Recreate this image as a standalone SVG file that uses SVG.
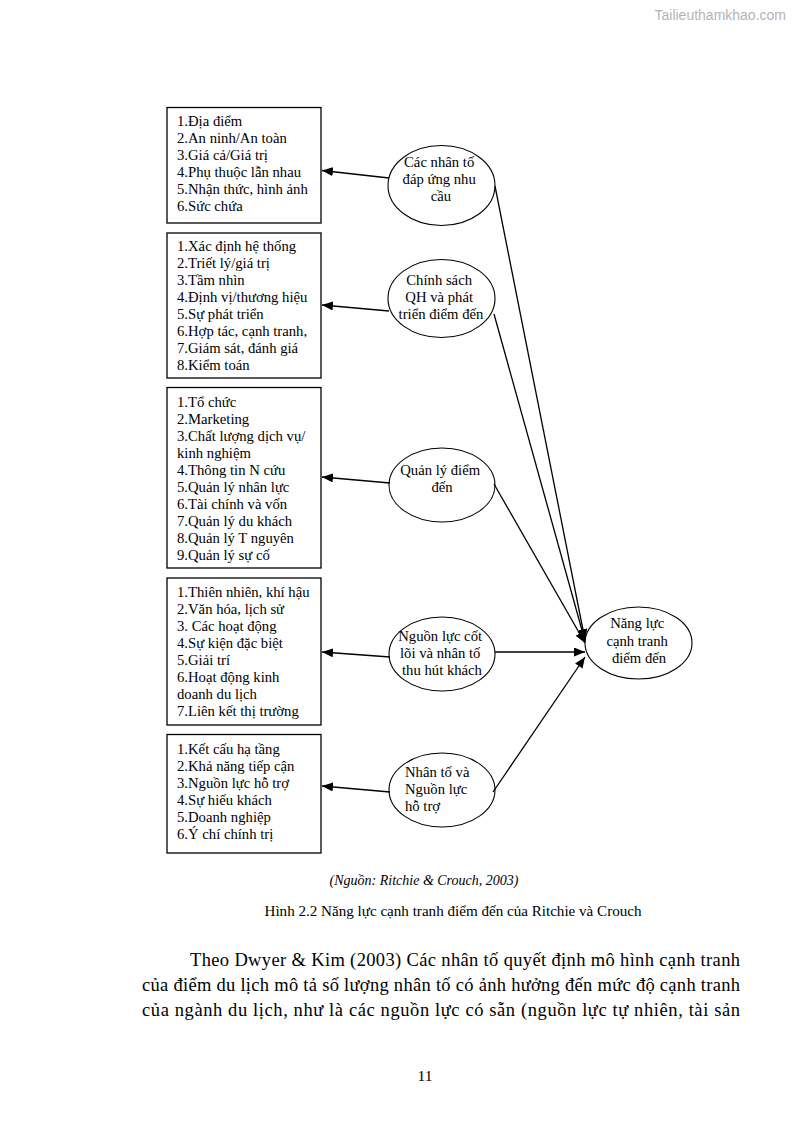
<svg xmlns="http://www.w3.org/2000/svg" width="794" height="1123" viewBox="0 0 794 1123">
<style>
  .box { fill: #fff; stroke: #000; stroke-width: 1.3; }
  .ell { fill: #fff; stroke: #000; stroke-width: 1.1; }
  .t { font-family: "Liberation Serif", "Times New Roman", serif; font-size: 14.7px; fill: #000; }
  .c { text-anchor: middle; }
  .conn { stroke: #000; stroke-width: 1.3; fill: none; marker-end: url(#arr); }
  .cap { font-family: "Liberation Serif", "Times New Roman", serif; fill: #000; }
</style>
<defs>
  <marker id="arr" markerUnits="userSpaceOnUse" markerWidth="11" markerHeight="9" refX="11" refY="4.5" orient="auto">
    <path d="M0,0 L11,4.5 L0,9 z" fill="#000"/>
  </marker>
</defs>
<rect width="794" height="1123" fill="#fff"/>

<text x="786" y="20" text-anchor="end" font-family="Liberation Sans, Arial, sans-serif" font-size="14" fill="#b4b4b4">Tailieuthamkhao.com</text>

<g id="box1">
  <rect class="box" x="167" y="107.5" width="154" height="115.5"/>
  <text class="t" x="177">
    <tspan x="177" y="126">1.Địa điểm</tspan>
    <tspan x="177" y="143">2.An ninh/An toàn</tspan>
    <tspan x="177" y="160">3.Giá cả/Giá trị</tspan>
    <tspan x="177" y="177">4.Phụ thuộc lẫn nhau</tspan>
    <tspan x="177" y="194">5.Nhận thức, hình ảnh</tspan>
    <tspan x="177" y="211">6.Sức chứa</tspan>
  </text>
</g>
<g id="box2">
  <rect class="box" x="167" y="233" width="154" height="145"/>
  <text class="t">
    <tspan x="177" y="251">1.Xác định hệ thống</tspan>
    <tspan x="177" y="268">2.Triết lý/giá trị</tspan>
    <tspan x="177" y="285">3.Tầm nhìn</tspan>
    <tspan x="177" y="302">4.Định vị/thương hiệu</tspan>
    <tspan x="177" y="319">5.Sự phát triển</tspan>
    <tspan x="177" y="336">6.Hợp tác, cạnh tranh,</tspan>
    <tspan x="177" y="353">7.Giám sát, đánh giá</tspan>
    <tspan x="177" y="370">8.Kiểm toán</tspan>
  </text>
</g>
<g id="box3">
  <rect class="box" x="167" y="387.5" width="154" height="180.5"/>
  <text class="t">
    <tspan x="177" y="407">1.Tổ chức</tspan>
    <tspan x="177" y="424">2.Marketing</tspan>
    <tspan x="177" y="441">3.Chất lượng dịch vụ/</tspan>
    <tspan x="177" y="458">kinh nghiệm</tspan>
    <tspan x="177" y="475">4.Thông tin N cứu</tspan>
    <tspan x="177" y="492">5.Quản lý nhân lực</tspan>
    <tspan x="177" y="509">6.Tài chính và vốn</tspan>
    <tspan x="177" y="526">7.Quản lý du khách</tspan>
    <tspan x="177" y="543">8.Quản lý T nguyên</tspan>
    <tspan x="177" y="560">9.Quản lý sự cố</tspan>
  </text>
</g>
<g id="box4">
  <rect class="box" x="167" y="578" width="154" height="147"/>
  <text class="t">
    <tspan x="177" y="597">1.Thiên nhiên, khí hậu</tspan>
    <tspan x="177" y="614">2.Văn hóa, lịch sử</tspan>
    <tspan x="177" y="631">3. Các hoạt động</tspan>
    <tspan x="177" y="648">4.Sự kiện đặc biệt</tspan>
    <tspan x="177" y="665">5.Giải trí</tspan>
    <tspan x="177" y="682">6.Hoạt động kinh</tspan>
    <tspan x="177" y="699">doanh du lịch</tspan>
    <tspan x="177" y="716">7.Liên kết thị trường</tspan>
  </text>
</g>
<g id="box5">
  <rect class="box" x="167" y="734.5" width="154" height="118.5"/>
  <text class="t">
    <tspan x="177" y="754">1.Kết cấu hạ tầng</tspan>
    <tspan x="177" y="771">2.Khả năng tiếp cận</tspan>
    <tspan x="177" y="788">3.Nguồn lực hỗ trợ</tspan>
    <tspan x="177" y="805">4.Sự hiếu khách</tspan>
    <tspan x="177" y="822">5.Doanh nghiệp</tspan>
    <tspan x="177" y="839">6.Ý chí chính trị</tspan>
  </text>
</g>

<g id="ell1">
  <ellipse class="ell" cx="441.5" cy="185.5" rx="53.5" ry="40"/>
  <text class="t c">
    <tspan x="441" y="167">Các nhân tố</tspan>
    <tspan x="441" y="184">đáp ứng nhu</tspan>
    <tspan x="441" y="201">cầu</tspan>
  </text>
</g>
<g id="ell2">
  <ellipse class="ell" cx="441.5" cy="298.5" rx="53.5" ry="39"/>
  <text class="t c">
    <tspan x="441" y="285">Chính sách</tspan>
    <tspan x="441" y="302">QH và phát</tspan>
    <tspan x="441" y="319">triển điểm đến</tspan>
  </text>
</g>
<g id="ell3">
  <ellipse class="ell" cx="442" cy="485" rx="53" ry="37"/>
  <text class="t c">
    <tspan x="442" y="475">Quản lý điểm</tspan>
    <tspan x="442" y="492">đến</tspan>
  </text>
</g>
<g id="ell4">
  <ellipse class="ell" cx="442" cy="654" rx="53" ry="37"/>
  <text class="t c">
    <tspan x="442" y="641">Nguồn lực cốt</tspan>
    <tspan x="442" y="658">lõi và nhân tố</tspan>
    <tspan x="442" y="675">thu hút khách</tspan>
  </text>
</g>
<g id="ell5">
  <ellipse class="ell" cx="442" cy="790" rx="53" ry="37"/>
  <text class="t">
    <tspan x="405" y="777">Nhân tố và</tspan>
    <tspan x="405" y="794">Nguồn lực</tspan>
    <tspan x="405" y="811">hỗ trợ</tspan>
  </text>
</g>
<g id="target">
  <ellipse class="ell" cx="638.5" cy="643" rx="53.5" ry="36"/>
  <text class="t c">
    <tspan x="639" y="628">Năng lực</tspan>
    <tspan x="639" y="646">cạnh tranh</tspan>
    <tspan x="639" y="663">điểm đến</tspan>
  </text>
</g>

<g id="connectors">
  <line class="conn" x1="389" y1="178" x2="322" y2="170.5"/>
  <line class="conn" x1="389" y1="311" x2="322" y2="305"/>
  <line class="conn" x1="390" y1="483" x2="322" y2="477"/>
  <line class="conn" x1="390" y1="657" x2="322" y2="652"/>
  <line class="conn" x1="390" y1="792" x2="322" y2="786"/>
  <line class="conn" x1="495" y1="186" x2="585" y2="640"/>
  <line class="conn" x1="494" y1="314" x2="585" y2="641"/>
  <line class="conn" x1="494" y1="484" x2="585" y2="643"/>
  <line class="conn" x1="495" y1="652" x2="585" y2="652"/>
  <line class="conn" x1="493" y1="792" x2="585" y2="657"/>
</g>

<text class="cap" x="424" y="885" text-anchor="middle" font-size="14" font-style="italic">(Nguồn: Ritchie &amp; Crouch, 2003)</text>
<text class="cap" x="453" y="916" text-anchor="middle" font-size="15.1">Hình 2.2 Năng lực cạnh tranh điểm đến của Ritchie và Crouch</text>

<text class="cap" x="190" y="966" font-size="18.5" textLength="550" lengthAdjust="spacing">Theo Dwyer &amp; Kim (2003) Các nhân tố quyết định mô hình cạnh tranh</text>
<text class="cap" x="142" y="991" font-size="18.5" textLength="598" lengthAdjust="spacing">của điểm du lịch mô tả số lượng nhân tố có ảnh hưởng đến mức độ cạnh tranh</text>
<text class="cap" x="142" y="1016" font-size="18.5" textLength="598" lengthAdjust="spacing">của ngành du lịch, như là các nguồn lực có sẵn (nguồn lực tự nhiên, tài sản</text>

<text class="cap" x="425" y="1081" text-anchor="middle" font-size="15.5">11</text>
</svg>
